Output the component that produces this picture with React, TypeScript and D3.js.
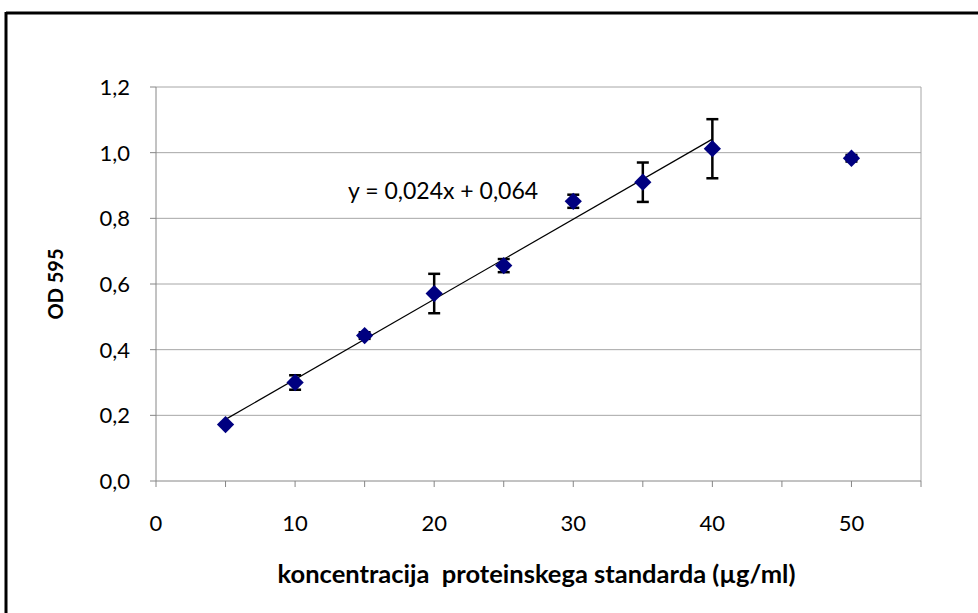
import React from "react";
import * as d3 from "d3";

// koncentracija (µg/ml), OD 595 and the error bar half widths
const concentrations = [5, 10, 15, 20, 25, 30, 35, 40, 50];
const odValues = [0.172, 0.3, 0.443, 0.571, 0.656, 0.852, 0.91, 1.012, 0.983];
const odErrors = [0, 0.022, 0.01, 0.06, 0.02, 0.02, 0.06, 0.09, 0.01];
const yTicks = [0, 0.2, 0.4, 0.6, 0.8, 1.0, 1.2];
const xTicks = [0, 10, 20, 30, 40, 50];
const xMinorTicks = [0, 5, 10, 15, 20, 25, 30, 35, 40, 45, 50, 55];
const trendMaxX = 40; // trendline only over the linear part
const equationLabel = "y = 0,024x + 0,064";

const W = 978;
const H = 613;
const margin = { left: 156, right: 57, top: 87, bottom: 132 };

const App = () => {
  const x = d3.scaleLinear().domain([0, 55]).range([margin.left, W - margin.right]);
  const y = d3.scaleLinear().domain([0, 1.2]).range([H - margin.bottom, margin.top]);
  const fmt = (v: number) => d3.format(".1f")(v).replace(".", ",");

  // linear fit on points up to 40
  const fitIdx = d3.range(concentrations.length).filter(i => concentrations[i] <= trendMaxX);
  const mx = d3.mean(fitIdx, i => concentrations[i]) as number;
  const my = d3.mean(fitIdx, i => odValues[i]) as number;
  const sxy = d3.sum(fitIdx, i => (concentrations[i] - mx) * (odValues[i] - my));
  const sxx = d3.sum(fitIdx, i => (concentrations[i] - mx) ** 2);
  const slope = sxy / sxx;
  const icpt = my - slope * mx;
  const x0 = d3.min(fitIdx, i => concentrations[i]) as number;
  const x1 = d3.max(fitIdx, i => concentrations[i]) as number;

  const font = "Lato, 'Open Sans', sans-serif";
  const axisColor = "#868686";
  const gridColor = "#a6a6a6";
  const navy = "#000080";
  const diamond = d3.symbol().type(d3.symbolDiamond2).size(190)();

  return (
    <div style={{ position: "absolute", left: 0, top: 0 }}>
      <svg width={W} height={H} style={{ display: "block", background: "#fff" }}>
        {/* outer frame (cut at right and bottom) */}
        <line x1={6} x2={W} y1={13} y2={13} stroke="#000" strokeWidth={3} />
        <line x1={6} x2={6} y1={12} y2={H} stroke="#000" strokeWidth={3} />

        {/* grid */}
        {yTicks.filter(t => t > 0).map(t => (
          <line key={"g" + t} x1={x(0)} x2={x(55)} y1={y(t)} y2={y(t)} stroke={gridColor} strokeWidth={1} />
        ))}
        <line x1={x(55)} x2={x(55)} y1={y(1.2)} y2={y(0)} stroke={gridColor} strokeWidth={1} />

        {/* axes */}
        <line x1={x(0)} x2={x(55)} y1={y(0)} y2={y(0)} stroke={axisColor} strokeWidth={1} />
        <line x1={x(0)} x2={x(0)} y1={y(0)} y2={y(1.2)} stroke={axisColor} strokeWidth={1} />
        {xMinorTicks.map(t => (
          <line key={"xt" + t} x1={x(t)} x2={x(t)} y1={y(0)} y2={y(0) + 6} stroke={axisColor} strokeWidth={1} />
        ))}
        {yTicks.map(t => (
          <line key={"yt" + t} x1={x(0) - 6} x2={x(0)} y1={y(t)} y2={y(t)} stroke={axisColor} strokeWidth={1} />
        ))}

        {/* tick labels */}
        {yTicks.map(t => (
          <text key={"yl" + t} x={x(0) - 26} y={y(t)} dy="0.36em" textAnchor="end"
            fontFamily={font} fontSize={22} fill="#000">{fmt(t)}</text>
        ))}
        {xTicks.map(t => (
          <text key={"xl" + t} x={x(t)} y={y(0) + 50} textAnchor="middle"
            fontFamily={font} fontSize={22} fill="#000">{t}</text>
        ))}

        {/* axis titles */}
        <text x={(x(0) + x(55)) / 2 - 2} y={583} textAnchor="middle" fontFamily={font}
          fontWeight="bold" fontSize={25.5} fill="#000" xmlSpace="preserve">
          koncentracija  proteinskega standarda (µg/ml)
        </text>
        <text transform={`translate(63,${(y(0) + y(1.2)) / 2}) rotate(-90)`} textAnchor="middle"
          fontFamily={font} fontWeight="bold" fontSize={20} fill="#000">OD 595</text>

        {/* trendline */}
        <line x1={x(x0)} x2={x(x1)} y1={y(slope * x0 + icpt)} y2={y(slope * x1 + icpt)}
          stroke="#000" strokeWidth={1.2} />
        <text x={348} y={199} fontFamily={font} fontSize={23} fill="#000">{equationLabel}</text>

        {/* error bars */}
        {concentrations.map((c, i) => odErrors[i] > 0 && (
          <g key={"e" + c} stroke="#000" strokeWidth={2.5}>
            <line x1={x(c)} x2={x(c)} y1={y(odValues[i] - odErrors[i])} y2={y(odValues[i] + odErrors[i])} />
            <line x1={x(c) - 6} x2={x(c) + 6} y1={y(odValues[i] - odErrors[i])} y2={y(odValues[i] - odErrors[i])} />
            <line x1={x(c) - 6} x2={x(c) + 6} y1={y(odValues[i] + odErrors[i])} y2={y(odValues[i] + odErrors[i])} />
          </g>
        ))}

        {/* markers */}
        {concentrations.map((c, i) => (
          <path key={"m" + c} d={diamond as string} transform={`translate(${x(c)},${y(odValues[i])})`} fill={navy} />
        ))}
      </svg>
    </div>
  );
};

export default App;
